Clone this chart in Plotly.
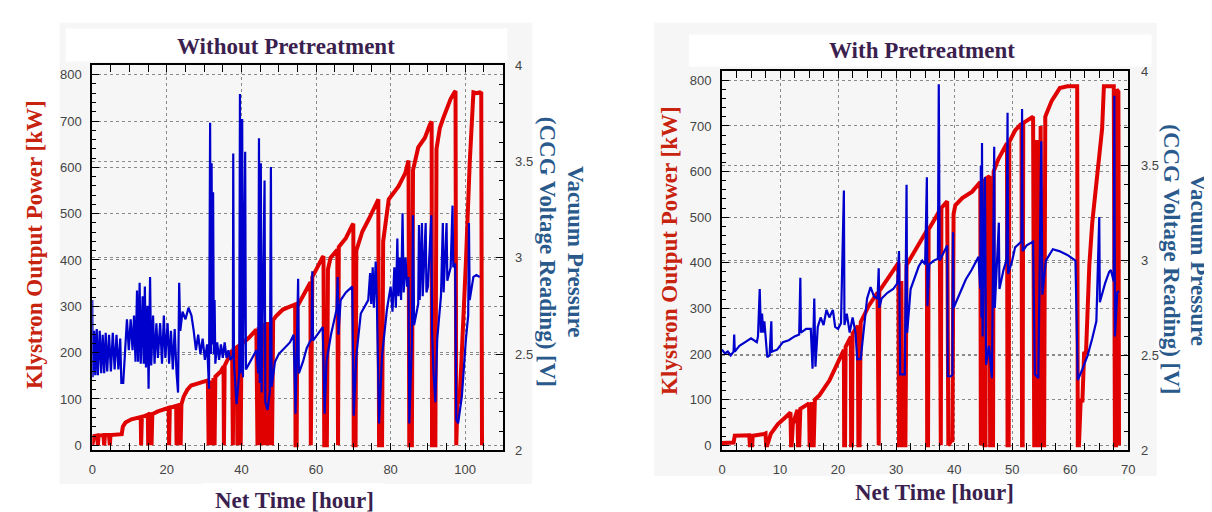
import plotly.graph_objects as go

# ---------------- data ----------------
# Left panel: Without Pretreatment
L_t_power = [0, 0.5, 1.3, 1.5, 1.7, 3.0, 3.2, 3.4, 4.5, 4.7, 4.9, 7.9, 8.2, 8.9, 10.5, 12.2, 13.0, 13.1, 13.3,
             14.9, 15.0, 15.2, 15.8, 15.9, 16.1, 17.6, 20.2, 20.5, 20.6, 20.8, 22.5, 22.6, 22.8, 23.6, 23.7, 23.9,
             24.5, 25.5, 26.5, 28.0, 29.5, 31.0, 31.2, 31.5, 31.7, 32.0, 32.2, 32.5, 32.8, 33.0, 34.5, 35.2, 35.3,
             35.5, 37.5, 37.7, 37.9, 38.8, 38.9, 39.1, 39.6, 39.8, 40.0, 42.0, 44.0, 44.3, 44.6, 44.9, 45.2, 45.5,
             45.8, 46.1, 46.4, 46.8, 47.1, 47.5, 47.8, 48.2, 48.5, 49.3, 51.1, 53.5, 54.4, 54.5, 54.8, 55.0, 55.5,
             57.0, 58.5, 58.6, 58.8, 59.0, 61.7, 62.0, 62.2, 62.9, 63.2, 63.9, 65.7, 65.9, 66.1, 66.6, 68.0, 69.7,
             70.0, 70.1, 70.6, 70.8, 72.4, 74.2, 76.7, 76.9, 77.7, 78.0, 79.5, 82.1, 83.9, 84.8, 85.0, 85.7, 86.0,
             87.4, 89.2, 90.5, 91.0, 91.1, 92.0, 92.3, 93.2, 94.1, 96.1, 97.1, 97.4, 97.6, 97.9, 98.5, 99.1, 100.2,
             101.2, 101.7, 102.2, 103.0, 103.9, 104.3, 104.5]
L_power = [0, 20, 21, 0, 21, 22, 0, 22, 22, 0, 22, 24, 40, 49, 56, 59, 61, 0, 61,
           66, 0, 66, 67, 0, 67, 73, 80, 81, 0, 81, 85, 0, 85, 88, 0, 88,
           105, 120, 129, 133, 137, 140, 0, 140, 0, 140, 0, 145, 0, 148, 160, 170, 0,
           172, 205, 0, 207, 212, 0, 214, 217, 0, 218, 232, 250, 0, 255, 0, 260, 0,
           262, 0, 265, 0, 266, 0, 266, 0, 270, 279, 293, 300, 304, 0, 0, 300, 307,
           330, 352, 0, 355, 363, 405, 408, 0, 0, 380, 405, 422, 0, 428, 433, 447, 475,
           478, 0, 0, 420, 461, 489, 531, 0, 0, 440, 531, 559, 587, 615, 0, 0, 594,
           643, 664, 692, 699, 0, 0, 640, 685, 706, 748, 762, 765, 0, 90, 95, 196, 398,
           608, 699, 762, 760, 762, 760, 0]

L_t_vac = [0.0, 0.1, 0.5, 0.8, 1.2, 1.5, 2.0, 2.4, 2.8, 3.2, 3.6, 4.0, 4.5, 5.0, 5.5, 6.0, 6.5, 7.0, 7.5, 7.8,
           8.3, 8.8, 9.3, 9.8, 10.3, 10.8, 11.2, 11.6, 12.0, 12.3, 12.7, 13.0, 13.5, 13.8, 14.1, 14.4, 14.8,
           15.1, 15.5, 15.8, 16.3, 16.7, 17.2, 17.6, 18.2, 18.7, 19.2, 19.6, 20.2, 20.6, 21.1, 21.6, 22.1,
           22.6, 23.0, 23.3, 23.6, 24.2, 25.0, 25.8, 26.6, 27.2, 27.8, 28.4, 29.0, 29.6, 30.2, 30.8, 31.3,
           31.6, 31.8, 32.0, 32.2, 32.4, 32.6, 32.8, 33.0, 33.5, 34.0, 34.5, 35.0, 35.5, 36.0, 36.5, 37.0,
           37.7, 37.8, 38.0, 38.7, 39.4, 39.6, 39.8, 40.2, 40.4, 41.0, 41.2, 42.0, 43.0, 44.0, 44.5, 44.7,
           44.9, 45.2, 45.4, 46.2, 46.4, 47.0, 47.6, 47.9, 48.1, 49.0, 50.0, 51.5, 53.0, 54.0, 54.5, 55.2,
           55.4, 56.5, 57.5, 58.8, 59.0, 59.2, 61.0, 61.8, 62.3, 62.8, 64.0, 65.0, 65.5, 65.8, 66.0, 66.6,
           68.0, 69.7, 70.1, 70.8, 72.0, 74.0, 74.5, 74.8, 75.2, 75.5, 76.0, 76.3, 76.9, 77.7, 79.0, 80.0,
           80.5, 81.0, 81.4, 81.8, 82.1, 82.5, 82.8, 83.2, 83.5, 84.0, 84.4, 84.8, 85.0, 85.7, 86.0, 86.3,
           87.4, 87.6, 87.8, 88.4, 88.6, 89.4, 89.6, 90.0, 90.9, 91.1, 91.5, 92.0, 92.5, 93.5, 94.0, 94.2,
           95.0, 95.2, 96.1, 96.6, 96.8, 97.3, 97.6, 98.1, 99.1, 100.2, 100.8, 101.0, 101.2, 102.2, 103.0,
           103.9]
L_vac = [2.78, 2.38, 2.62, 2.39, 2.63, 2.39, 2.62, 2.40, 2.60, 2.40, 2.61, 2.41, 2.60, 2.41, 2.61, 2.42, 2.60,
         2.42, 2.58, 2.35, 2.35, 2.55, 2.68, 2.52, 2.68, 2.52, 2.70, 2.46, 2.83, 2.46, 2.87, 2.45, 2.80, 2.45,
         2.85, 2.43, 2.75, 2.32, 2.90, 2.44, 2.70, 2.45, 2.66, 2.48, 2.66, 2.45, 2.70, 2.48, 2.66, 2.45, 2.62,
         2.42, 2.63, 2.40, 2.30, 2.87, 2.62, 2.72, 2.68, 2.74, 2.70, 2.62, 2.52, 2.60, 2.50, 2.58, 2.47, 2.55,
         2.32, 3.70, 2.50, 3.49, 2.55, 3.34, 2.50, 2.78, 2.45, 2.56, 2.47, 2.55, 2.48, 2.56, 2.48, 2.52, 2.47,
         2.49, 3.54, 2.45, 2.24, 2.40, 3.85, 2.40, 3.72, 2.38, 3.55, 2.42, 2.45, 2.48, 2.52, 2.40, 3.62,
         2.35, 3.49, 2.30, 3.40, 2.25, 2.21, 2.30, 3.47, 2.33, 2.46, 2.50, 2.53, 2.56, 2.60, 2.19, 2.89,
         2.40, 2.46, 2.53, 2.58, 2.93, 2.57, 2.62, 2.64, 2.19, 2.46, 2.60, 2.70, 2.73, 2.90, 2.60, 2.78,
         2.82, 2.85, 2.18, 2.49, 2.71, 2.78, 2.92, 2.76, 2.95, 2.74, 2.98, 2.78, 2.14, 2.49, 2.73, 2.85,
         2.72, 2.95, 2.74, 3.10, 2.80, 3.00, 2.78, 3.23, 2.82, 3.00, 2.85, 2.90, 2.14, 2.56, 3.22, 2.65,
         2.76, 3.17, 2.78, 3.18, 2.80, 3.18, 2.82, 2.85, 3.22, 2.62, 2.40, 2.25, 2.58, 2.80, 3.18, 2.82,
         3.18, 2.88, 2.95, 3.27, 2.95, 2.97, 2.16, 2.14, 2.28, 2.58, 2.70, 3.18, 2.78, 2.90, 2.91,
         2.90]

# Right panel: With Pretreatment
R_t_power = [0.0, 0.2, 2.0, 2.2, 4.7, 4.8, 5.2, 5.3, 7.3, 7.5, 7.6, 7.8, 8.4, 9.6, 10.8, 11.6, 11.8, 11.9, 12.0,
             12.2, 13.0, 13.1, 13.3, 13.5, 14.4, 15.0, 15.1, 15.3, 15.5, 15.6, 15.8, 16.0, 16.8, 18.5, 20.2,
             21.0, 21.05, 21.2, 21.3, 22.2, 22.25, 22.4, 22.5, 23.4, 23.5, 23.7, 23.9, 25.3, 26.8, 26.9, 27.0,
             27.1, 28.2, 29.3, 30.4, 30.5, 30.8, 30.9, 31.1, 31.6, 31.8, 32.2, 33.9, 35.3, 35.35, 35.5, 35.6,
             37.3, 37.5, 37.6, 37.7, 37.8, 38.8, 39.0, 39.5, 39.7, 39.9, 40.2, 41.4, 43.1, 44.5, 44.6, 44.8,
             44.9, 45.1, 45.2, 45.4, 45.5, 46.1, 46.2, 46.7, 46.8, 47.1, 47.6, 49.1, 49.2, 49.4, 49.5, 50.5,
             51.6, 51.7, 51.8, 51.9, 52.2, 53.6, 53.8, 54.2, 54.3, 54.5, 54.8, 54.9, 55.1, 55.5, 55.7, 55.9,
             56.8, 58.2, 59.5, 61.2, 61.3, 61.5, 61.8, 62.1, 62.4, 62.7, 63.3, 63.8, 64.7, 65.3, 65.5, 65.8,
             67.5, 67.7, 67.9, 68.0, 68.3, 68.4]
R_power = [0, 5, 6, 21, 22, 0, 0, 21, 25, 26, 0, 0, 25, 46, 60, 71, 72, 0, 0,
           46, 78, 0, 0, 80, 88, 92, 0, 0, 95, 0, 0, 100, 110, 142, 188,
           209, 0, 0, 216, 238, 0, 0, 245, 262, 0, 0, 270, 306, 335, 0, 0,
           338, 358, 379, 400, 0, 0, 360, 0, 0, 395, 404, 443, 471, 0, 0, 473,
           510, 520, 0, 0, 520, 535, 0, 10, 8, 507, 526, 542, 556, 577, 0, 580,
           0, 584, 0, 0, 585, 590, 0, 0, 600, 613, 627, 662, 0, 0, 665, 690,
           705, 0, 0, 706, 709, 720, 0, 0, 669, 0, 0, 700, 0, 0, 720, 727,
           755, 783, 787, 787, 0, 0, 98, 98, 205, 198, 397, 489, 596, 681, 695, 787,
           787, 0, 0, 780, 775, 0]

R_t_vac = [0.0, 0.5, 1.0, 1.5, 2.0, 2.1, 2.2, 3.0, 4.0, 5.0, 6.0, 6.2, 6.5, 6.7, 6.9, 7.1, 7.3, 7.5, 7.8, 8.2,
           8.5, 8.6, 9.5, 10.5, 11.5, 12.5, 13.3, 13.5, 13.6, 14.5, 15.3, 15.6, 15.9, 16.1, 16.5, 17.0, 17.5,
           18.0, 18.5, 19.1, 19.5, 20.0, 20.5, 21.0, 21.1, 21.5, 22.0, 22.5, 23.0, 23.3, 23.9, 24.2, 25.0,
           25.6, 26.2, 26.8, 27.0, 27.1, 27.5, 28.5, 29.5, 30.2, 30.5, 30.7, 31.5, 31.8, 31.9, 32.5, 33.9,
           34.5, 35.0, 35.3, 35.4, 35.7, 36.5, 37.2, 37.35, 37.5, 38.3, 38.8, 38.9, 39.5, 39.7, 39.8, 39.9,
           41.0, 42.0, 43.0, 44.2, 44.5, 44.6, 44.7, 44.8, 44.9, 45.3, 45.5, 46.0, 46.5, 46.9, 47.0, 47.7,
           47.8, 48.5, 49.0, 49.2, 49.3, 50.0, 50.5, 51.6, 51.7, 51.8, 52.5, 53.6, 53.9, 54.5, 55.0, 55.2,
           55.8, 57.0, 58.1, 59.5, 60.9, 61.3, 62.0, 63.0, 63.8, 64.5, 65.0, 65.1, 66.0, 66.7, 67.0, 67.5,
           67.6, 67.7, 68.1, 68.4]
R_vac = [2.53, 2.51, 2.52, 2.50, 2.52, 2.61, 2.52, 2.55, 2.57, 2.59, 2.57, 2.60, 2.85, 2.62, 2.72, 2.62, 2.68,
         2.58, 2.49, 2.50, 2.68, 2.52, 2.53, 2.57, 2.58, 2.60, 2.61, 2.91, 2.62, 2.64, 2.64, 2.43, 2.80, 2.44,
         2.65, 2.70, 2.66, 2.74, 2.70, 2.74, 2.65, 2.64, 2.67, 3.37, 2.66, 2.72, 2.62, 2.70, 2.62, 2.48, 2.48,
         2.57, 2.80, 2.86, 2.81, 2.80, 2.96, 2.75, 2.80, 2.83, 2.85, 2.88, 3.05, 2.40, 2.40, 3.40, 2.62, 2.85,
         2.97, 3.00, 2.98, 3.44, 2.76, 2.98, 3.00, 3.01, 3.93, 3.00, 3.05, 3.08, 2.39, 2.39, 2.40, 3.15, 2.75,
         2.83, 2.90, 2.95, 3.02, 2.85, 3.50, 2.70, 3.62, 2.60, 3.44, 2.45, 2.55, 2.38, 3.60, 2.75, 3.20,
         2.85, 2.95, 3.00, 3.78, 2.93, 3.00, 3.07, 3.10, 3.80, 3.05, 3.08, 3.10, 2.40, 2.38, 3.63, 2.82,
         3.00, 3.06, 3.05, 3.03, 3.00, 2.37, 2.42, 2.50, 2.59, 2.68, 3.23, 2.78, 2.88, 2.94, 2.95, 2.89,
         3.87, 2.60, 2.83, 2.84]

L_xticks = [0, 20, 40, 60, 80, 100]
R_xticks = [0, 10, 20, 30, 40, 50, 60, 70]
P_ticks = [0, 100, 200, 300, 400, 500, 600, 700, 800]
V_ticks = [2, 2.5, 3, 3.5, 4]
V_ticktext = ["2", "2.5", "3", "3.5", "4"]

# ---------------- figure ----------------
W, H = 1212, 512
RED = "#e00000"
BLUE = "#0000cc"
TITLE_C = "#3b1f4f"
RED_T = "#c8230f"
BLUE_T = "#2a5a8c"
SERIF = "Liberation Serif, Times New Roman, serif"
SANS = "Liberation Sans, Arial, sans-serif"


def px(x):
    return x / W


def py(y):
    return 1 - y / H


fig = go.Figure()
fig.add_trace(go.Scatter(x=L_t_power, y=L_power, mode="lines", line=dict(color=RED, width=4),
                         xaxis="x", yaxis="y", showlegend=False))
fig.add_trace(go.Scatter(x=L_t_vac, y=L_vac, mode="lines", line=dict(color=BLUE, width=2.2),
                         xaxis="x", yaxis="y2", showlegend=False))
fig.add_trace(go.Scatter(x=R_t_power, y=R_power, mode="lines", line=dict(color=RED, width=4),
                         xaxis="x2", yaxis="y3", showlegend=False))
fig.add_trace(go.Scatter(x=R_t_vac, y=R_vac, mode="lines", line=dict(color=BLUE, width=2.2),
                         xaxis="x2", yaxis="y4", showlegend=False))

tickfont = dict(family=SANS, size=13, color="#444444")
common = dict(showline=True, linewidth=2, linecolor="black", ticks="inside", ticklen=7, tickwidth=1,
              tickcolor="black", showgrid=True, gridcolor="#8a8a8a", gridwidth=1, griddash="dot",
              zeroline=False, tickfont=tickfont, fixedrange=True)

L_dom_x = [px(81), px(495)]
L_dom_y = [py(448.5), py(51.5)]
R_dom_x = [px(716.5), px(1126.5)]
R_dom_y = [py(448.3), py(57.7)]

fig.update_layout(
    width=W, height=H, margin=dict(l=0, r=0, t=0, b=0),
    paper_bgcolor="white", plot_bgcolor="#fbfbfb",
    xaxis=dict(domain=L_dom_x, anchor="y", range=[0, 110], tickvals=L_xticks, mirror="allticks",
               minor=dict(dtick=5, tick0=0, ticks="inside", ticklen=4, tickcolor="black", showgrid=False),
               ticklabelstandoff=6, **common),
    yaxis=dict(domain=L_dom_y, anchor="x", range=[-11, 821], tickvals=P_ticks, mirror=False,
               minor=dict(dtick=20, tick0=0, ticks="inside", ticklen=4, tickcolor="black", showgrid=False),
               ticklabelstandoff=6, **common),
    yaxis2=dict(overlaying="y", anchor="x", side="right", range=[2, 4], tickvals=V_ticks, ticktext=V_ticktext,
                minor=dict(dtick=0.1, tick0=2, ticks="inside", ticklen=4, tickcolor="black", showgrid=False),
                ticklabelstandoff=8, **common),
    xaxis2=dict(domain=R_dom_x, anchor="y3", range=[0, 70], tickvals=R_xticks, mirror="allticks",
                minor=dict(dtick=2.5, tick0=0, ticks="inside", ticklen=4, tickcolor="black", showgrid=False),
                ticklabelstandoff=6, **common),
    yaxis3=dict(domain=R_dom_y, anchor="x2", range=[-10.6, 820.4], tickvals=P_ticks, mirror=False,
                minor=dict(dtick=20, tick0=0, ticks="inside", ticklen=4, tickcolor="black", showgrid=False),
                ticklabelstandoff=6, **common),
    yaxis4=dict(overlaying="y3", anchor="x2", side="right", range=[2, 4], tickvals=V_ticks, ticktext=V_ticktext,
                minor=dict(dtick=0.1, tick0=2, ticks="inside", ticklen=4, tickcolor="black", showgrid=False),
                ticklabelstandoff=8, **common),
)

# background panels (light gray sheets with white strips behind the titles)
shapes = [
    dict(x0=px(48), x1=px(525), y0=py(483), y1=py(8), fc="#f6f6f6"),
    dict(x0=px(54), x1=px(500), y0=py(48), y1=py(14), fc="white"),
    dict(x0=px(195), x1=px(375), y0=py(512), y1=py(482), fc="white"),
    dict(x0=px(648), x1=px(1155), y0=py(475), y1=py(8), fc="#f6f6f6"),
    dict(x0=px(683), x1=px(1150), y0=py(53), y1=py(20), fc="white"),
    dict(x0=px(843), x1=px(1077), y0=py(512), y1=py(473), fc="white"),
]
for s in shapes:
    fig.add_shape(type="rect", xref="paper", yref="paper", x0=s["x0"], x1=s["x1"], y0=s["y0"], y1=s["y1"],
                  fillcolor=s["fc"], line=dict(width=0), layer="below")


def ann(text, x, y, color, size, angle=0):
    fig.add_annotation(text=text, x=px(x), y=py(y), xref="paper", yref="paper", showarrow=False,
                       xanchor="center", yanchor="middle", textangle=angle,
                       font=dict(family=SERIF, size=size, color=color))


ann("<b>Without Pretreatment</b>", 277, 32, TITLE_C, 23)
ann("<b>With Pretreatment</b>", 918, 37, TITLE_C, 23)
ann("<b>Net Time [hour]</b>", 285, 500, TITLE_C, 23)
ann("<b>Net Time [hour]</b>", 931, 492, TITLE_C, 23)
ann("<b>Klystron Output Power [kW]</b>", 22, 236, RED_T, 23, -90)
ann("<b>Klystron Output Power [kW]</b>", 664, 242, RED_T, 23, -90)
ann("<b>Vacuum Pressure</b>", 568, 244, BLUE_T, 23, 90)
ann("<b>(CCG Voltage Reading) [V]</b>", 540, 244, BLUE_T, 23, 90)
ann("<b>Vacuum Pressure</b>", 1197, 252, BLUE_T, 23, 90)
ann("<b>(CCG Voltage Reading) [V]</b>", 1170, 252, BLUE_T, 23, 90)

fig.write_html("out.html")
